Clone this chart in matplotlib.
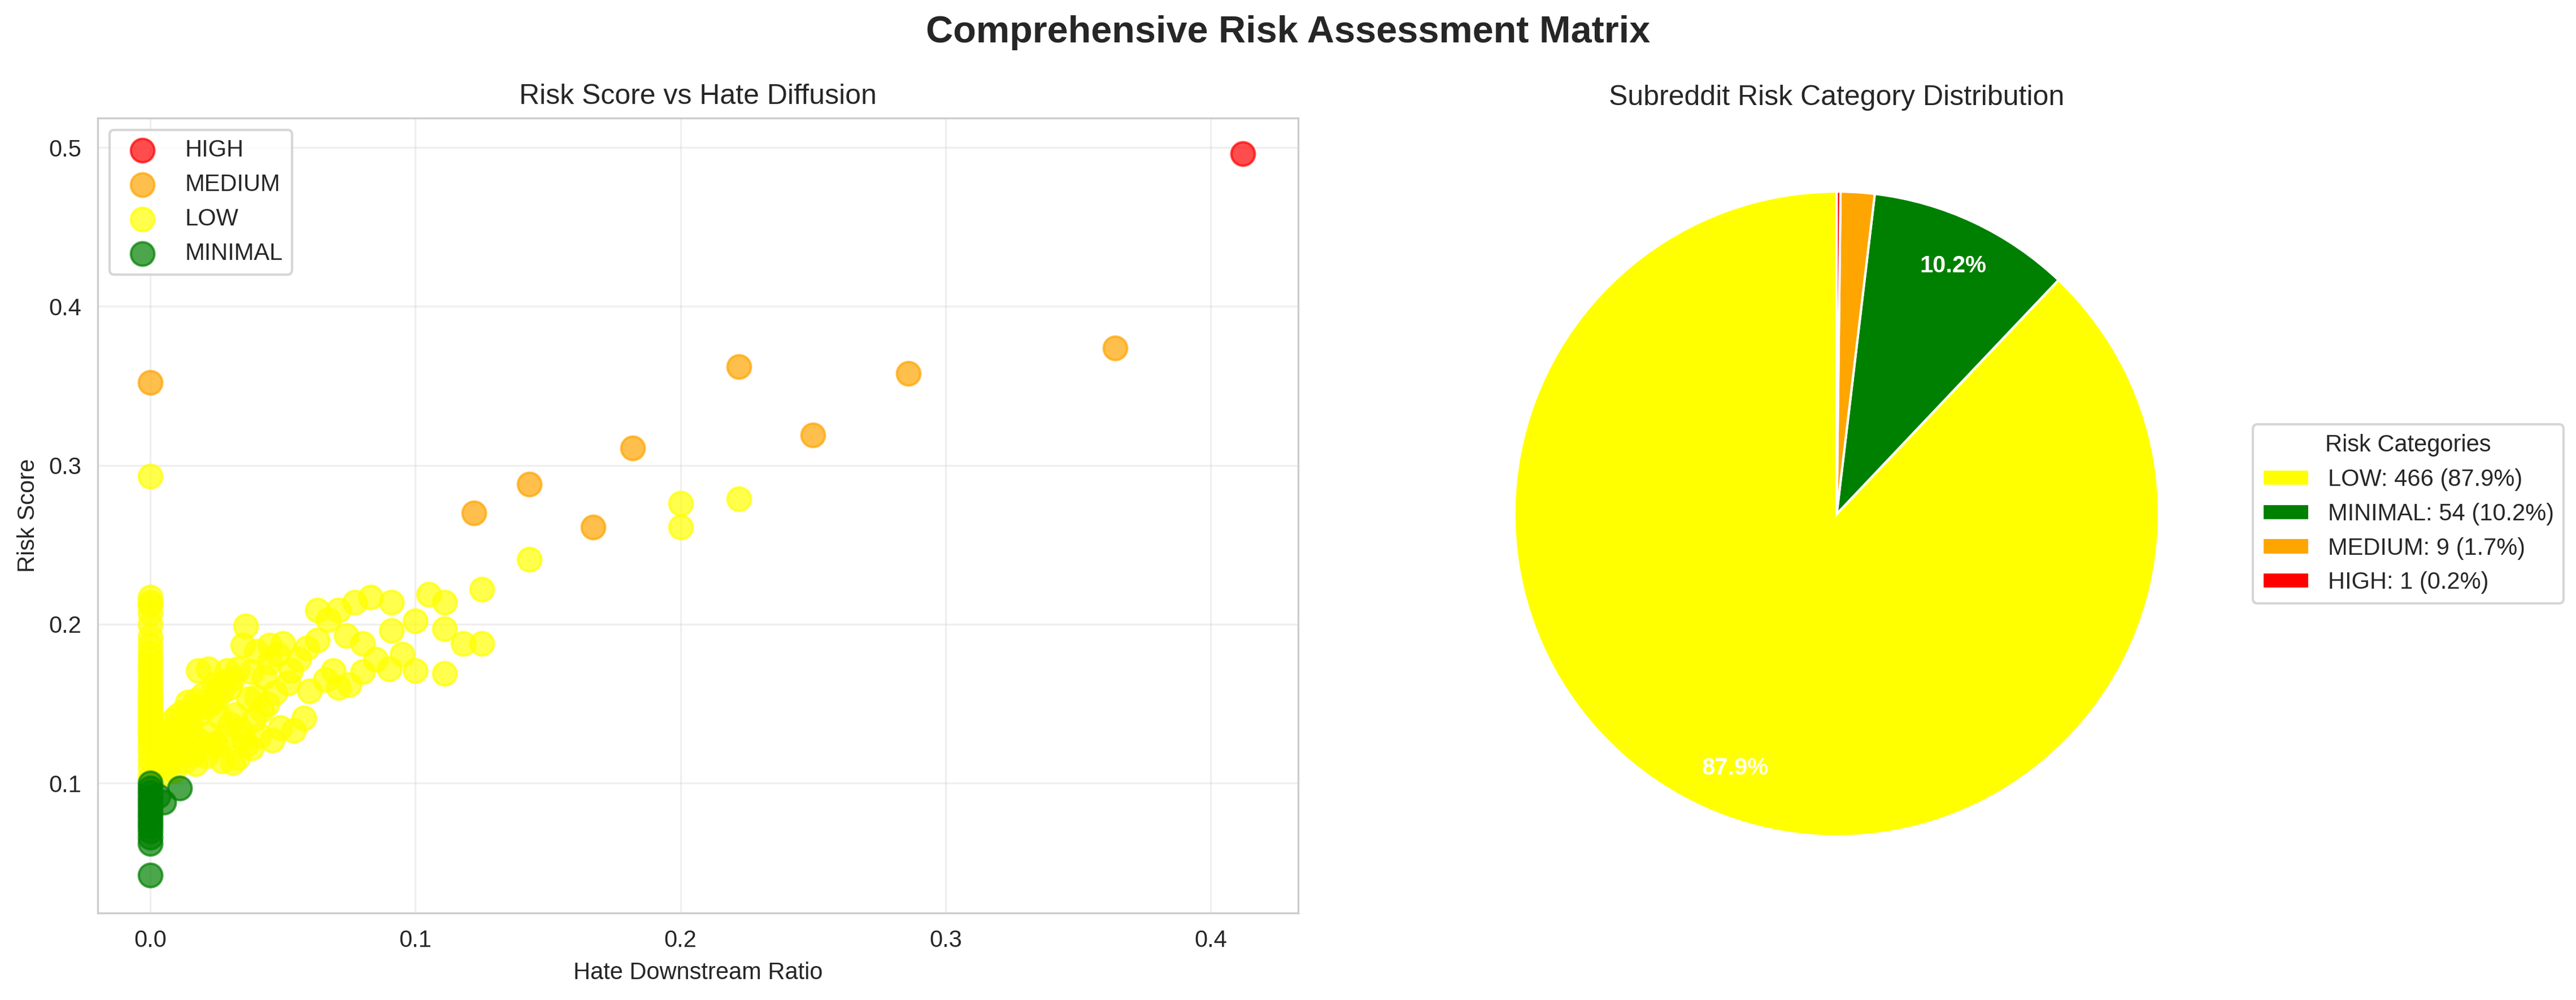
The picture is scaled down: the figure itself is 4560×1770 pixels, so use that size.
import matplotlib
matplotlib.use("Agg")
import matplotlib.pyplot as plt
import seaborn as sns

sns.set_style("whitegrid")
plt.rcParams['font.family'] = ['Arial', 'Liberation Sans', 'DejaVu Sans']

high_x = [0.412]
high_y = [0.496]
medium_x = [0.0, 0.122, 0.143, 0.167, 0.182, 0.222, 0.250, 0.286, 0.364]
medium_y = [0.352, 0.270, 0.288, 0.261, 0.311, 0.362, 0.319, 0.358, 0.374]
low_x = [0.0]*30 + [
    0.143, 0.200, 0.200, 0.222, 0.125, 0.118, 0.125, 0.111, 0.111, 0.105, 0.111, 0.100, 0.100,
    0.095, 0.091, 0.091, 0.083, 0.080, 0.077, 0.080, 0.071, 0.067, 0.063, 0.071, 0.063, 0.059,
    0.056, 0.053, 0.050, 0.048, 0.045, 0.043, 0.040, 0.038, 0.036, 0.035, 0.033, 0.031, 0.030,
    0.029, 0.028, 0.027, 0.026, 0.025, 0.024, 0.023, 0.022, 0.021, 0.020, 0.019, 0.018, 0.017,
    0.016, 0.015, 0.014, 0.013, 0.012, 0.011, 0.010, 0.009, 0.008, 0.007, 0.006, 0.005, 0.004,
    0.052, 0.047, 0.044, 0.042, 0.039, 0.037, 0.034, 0.032, 0.030, 0.028, 0.026, 0.024, 0.022,
    0.020, 0.018, 0.016, 0.014, 0.012, 0.010, 0.008, 0.006, 0.004, 0.003, 0.058, 0.054, 0.049,
    0.046, 0.041, 0.036, 0.033, 0.027, 0.021, 0.017, 0.013, 0.009, 0.007, 0.005, 0.060, 0.066,
    0.075, 0.069, 0.085, 0.074, 0.090, 0.045, 0.040, 0.035, 0.025, 0.015, 0.031, 0.038]
low_y = [0.293, 0.217, 0.214, 0.212, 0.207, 0.200, 0.192, 0.187, 0.182, 0.178, 0.174, 0.170,
         0.166, 0.162, 0.158, 0.155, 0.152, 0.149, 0.146, 0.143, 0.140, 0.137, 0.134, 0.131,
         0.128, 0.124, 0.120, 0.115, 0.110, 0.104] + [
    0.241, 0.276, 0.261, 0.279, 0.222, 0.188, 0.188, 0.197, 0.169, 0.219, 0.214, 0.171, 0.202,
    0.181, 0.196, 0.214, 0.217, 0.188, 0.214, 0.170, 0.209, 0.203, 0.209, 0.160, 0.190, 0.185,
    0.178, 0.171, 0.188, 0.181, 0.176, 0.167, 0.183, 0.170, 0.199, 0.187, 0.172, 0.166, 0.160,
    0.171, 0.164, 0.158, 0.160, 0.154, 0.162, 0.150, 0.172, 0.148, 0.156, 0.144, 0.171, 0.152,
    0.147, 0.140, 0.151, 0.138, 0.145, 0.136, 0.142, 0.132, 0.139, 0.133, 0.128, 0.124, 0.120,
    0.163, 0.157, 0.150, 0.146, 0.140, 0.153, 0.134, 0.143, 0.137, 0.129, 0.142, 0.125, 0.131,
    0.122, 0.127, 0.118, 0.130, 0.121, 0.126, 0.116, 0.119, 0.113, 0.110, 0.141, 0.133, 0.135,
    0.127, 0.130, 0.124, 0.116, 0.114, 0.117, 0.112, 0.114, 0.108, 0.112, 0.106, 0.158, 0.165,
    0.162, 0.171, 0.178, 0.193, 0.172, 0.187, 0.154, 0.128, 0.124, 0.134, 0.113, 0.122]
minimal_x = [0.0]*14 + [0.003, 0.005, 0.011]
minimal_y = [0.100, 0.097, 0.094, 0.091, 0.088, 0.085, 0.082, 0.079, 0.076, 0.073, 0.070,
             0.066, 0.062, 0.042, 0.092, 0.088, 0.097]

pie_labels = ["LOW", "MINIMAL", "MEDIUM", "HIGH"]
pie_counts = [466, 54, 9, 1]
pie_colors = ["yellow", "green", "orange", "red"]

fig = plt.figure(figsize=(15.2, 5.9), dpi=300)
ax1 = fig.add_axes([0.038, 0.087, 0.466, 0.795])
for xs, ys, c, lab in [(high_x, high_y, "red", "HIGH"), (medium_x, medium_y, "orange", "MEDIUM"),
                       (low_x, low_y, "yellow", "LOW"), (minimal_x, minimal_y, "green", "MINIMAL")]:
    ax1.scatter(xs, ys, s=100, c=c, alpha=0.7, label=lab)
ax1.set_xlim(-0.0198, 0.433)
ax1.set_ylim(0.0183, 0.5186)
ax1.set_xticks([0.0, 0.1, 0.2, 0.3, 0.4])
ax1.set_yticks([0.1, 0.2, 0.3, 0.4, 0.5])
ax1.set_xlabel("Hate Downstream Ratio")
ax1.set_ylabel("Risk Score")
ax1.set_title("Risk Score vs Hate Diffusion", fontsize=12)
ax1.grid(True, alpha=0.3)
ax1.legend(loc="upper left")

ax2 = fig.add_axes([0.556, 0.083, 0.314, 0.806])
wedges, texts, autotexts = ax2.pie(
    pie_counts, colors=pie_colors, startangle=90,
    autopct=lambda p: f"{p:.1f}%" if p > 5 else "", pctdistance=0.85,
    wedgeprops=dict(edgecolor="white", linewidth=1))
for t in autotexts:
    t.set_color("white"); t.set_fontweight("bold"); t.set_fontsize(10)
ax2.set_aspect("equal")
fig.text(0.713, 0.895, "Subreddit Risk Category Distribution", ha="center", fontsize=12)
leg_labels = [f"{l}: {c} ({c / sum(pie_counts) * 100:.1f}%)" for l, c in zip(pie_labels, pie_counts)]
fig.legend(wedges, leg_labels, title="Risk Categories", loc="center left",
           bbox_to_anchor=(0.870, 0.486))
fig.suptitle("Comprehensive Risk Assessment Matrix", fontsize=16, fontweight="bold", y=0.985)
fig.savefig("out.png", dpi=300)
